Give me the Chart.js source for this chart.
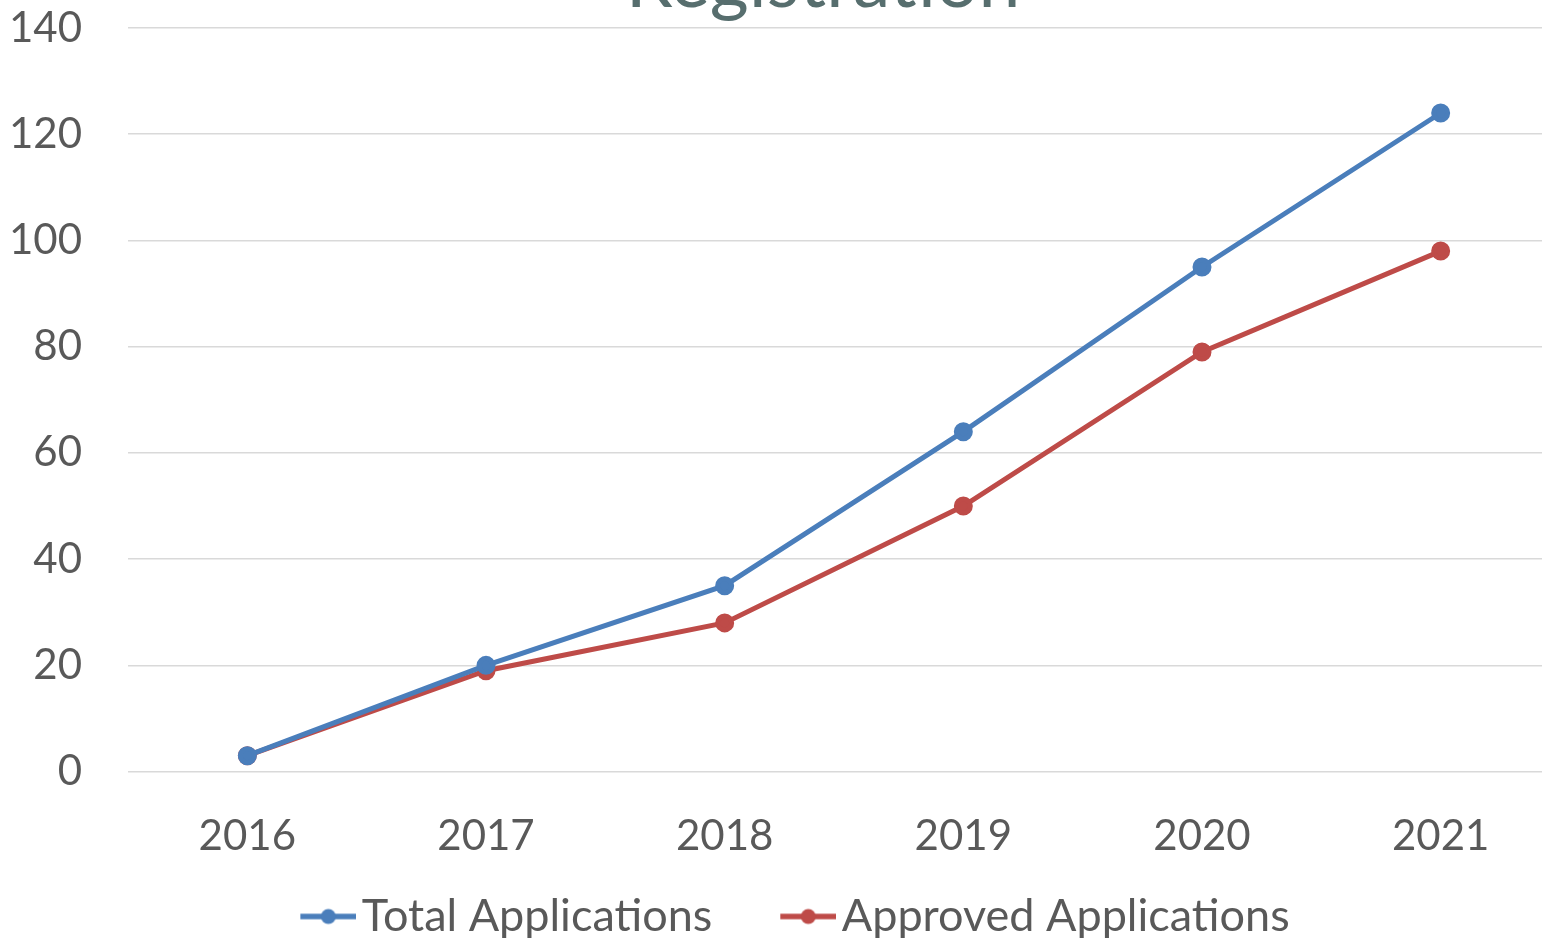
<!DOCTYPE html>
<html>
<head>
<meta charset="utf-8">
<script src="https://cdn.jsdelivr.net/npm/chart.js@4.4.1/dist/chart.umd.min.js"></script>
<style>
  html, body { margin: 0; padding: 0; background: #fff; overflow: hidden; }
  #wrap { position: absolute; left: 0; top: -62px; width: 1572px; height: 1011px; }
</style>
</head>
<body>
<div id="wrap"><canvas id="chart"></canvas></div>
<script>
const years = ['2016', '2017', '2018', '2019', '2020', '2021'];
const totalApps = [3, 20, 35, 64, 95, 124];
const approvedApps = [3, 19, 28, 50, 79, 98];
const blue = '#4a7ebb';
const red = '#be4b48';

// legend marker: blank gap on the left, then a line with a dot
function marker(color) {
    const c = document.createElement('canvas');
    c.width = 141; c.height = 18;
    const g = c.getContext('2d');
    g.strokeStyle = color; g.lineWidth = 5.5;
    g.beginPath(); g.moveTo(85, 9); g.lineTo(141, 9); g.stroke();
    g.fillStyle = color;
    g.beginPath(); g.arc(113, 9, 7.5, 0, Math.PI * 2); g.fill();
    return c;
}

// nudge title and legend a bit to the left, where excel puts them
const nudge = {
    id: 'nudge',
    afterLayout(chart) {
        chart.legend.left -= 50;
        chart.titleBlock.left -= 42;
    }
};

const ctx = document.getElementById('chart');
new Chart(ctx, {
    type: 'line',
    data: {
        labels: years,
        datasets: [
            {
                label: 'Total Applications',
                data: totalApps,
                borderColor: blue,
                backgroundColor: blue,
                borderWidth: 5,
                pointRadius: 7,
                pointHoverRadius: 7
            },
            {
                label: 'Approved Applications',
                data: approvedApps,
                borderColor: red,
                backgroundColor: red,
                borderWidth: 5,
                pointRadius: 7,
                pointHoverRadius: 7
            }
        ]
    },
    plugins: [nudge],
    options: {
        responsive: true,
        maintainAspectRatio: false,
        animation: false,
        layout: { padding: 0 },
        scales: {
            x: {
                offset: true,
                grid: { display: false },
                border: { display: false },
                ticks: { color: '#595959', font: { family: 'Lato', size: 42 }, padding: 32 }
            },
            y: {
                min: 0,
                max: 140,
                afterFit: s => { s.width = 128; },
                grid: { color: '#d9d9d9', lineWidth: 1.5, drawTicks: false },
                border: { display: false },
                ticks: { stepSize: 20, color: '#595959', font: { family: 'Lato', size: 42 }, padding: 46 }
            }
        },
        plugins: {
            tooltip: { enabled: false },
            title: {
                display: true,
                text: 'Registration',
                color: '#576e6e',
                fullSize: false,
                font: { family: 'Lato', size: 75, weight: 'normal' },
                padding: { top: 0, bottom: 0 }
            },
            legend: {
                position: 'bottom',
                labels: {
                    usePointStyle: true,
                    generateLabels: chart => chart.data.datasets.map((d, i) => ({
                        text: d.label,
                        pointStyle: marker(d.borderColor),
                        fontColor: '#595959',
                        strokeStyle: d.borderColor,
                        fillStyle: d.borderColor,
                        lineWidth: 0,
                        datasetIndex: i
                    })),
                    pointStyleWidth: 107,
                    padding: 0,
                    color: '#595959',
                    font: { family: 'Lato', size: 45 }
                }
            }
        }
    }
});
</script>
</body>
</html>
